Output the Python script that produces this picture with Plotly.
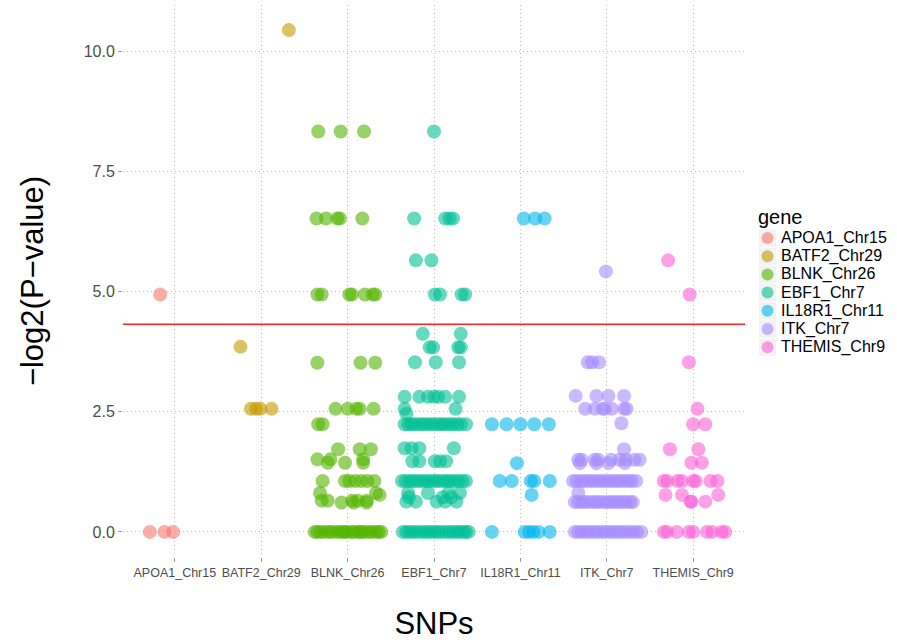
import plotly.graph_objects as go

# Genes (x categories) and colours
genes = ["APOA1_Chr15", "BATF2_Chr29", "BLNK_Chr26", "EBF1_Chr7",
         "IL18R1_Chr11", "ITK_Chr7", "THEMIS_Chr9"]
colors = ["#F8766D", "#C49A00", "#53B400", "#00C094",
          "#00B6EB", "#A58AFF", "#FB61D7"]

# -log2(P-value) per SNP and its horizontal jitter within the gene column
apoa1_y = [4.94, 0, 0, 0]
apoa1_dx = [-0.17, -0.29, -0.12, -0.02]

batf2_y = [10.44, 3.85, 2.56, 2.56, 2.56, 2.56]
batf2_dx = [0.32, -0.24, -0.12, -0.06, -0.01, 0.12]

blnk_y = [8.33, 8.33, 8.33,
          6.52, 6.52, 6.52, 6.52, 6.52,
          4.94, 4.94, 4.94, 4.94, 4.94, 4.94, 4.94,
          3.52, 3.52, 3.52,
          2.56, 2.56, 2.56, 2.56, 2.56,
          2.24, 2.24,
          1.72, 1.72, 1.72,
          1.51, 1.51, 1.51,
          1.44, 1.44, 1.44,
          1.06, 1.06, 1.06, 1.06, 1.06, 1.06, 1.06,
          0.81, 0.81, 0.77,
          0.65, 0.65, 0.65, 0.65, 0.65,
          0.61, 0.61, 0.61,
          0, 0, 0, 0, 0, 0, 0, 0, 0, 0, 0, 0, 0, 0, 0, 0, 0, 0, 0, 0, 0, 0]
blnk_dx = [-0.34, -0.08, 0.19,
           -0.36, -0.25, -0.12, -0.09, 0.17,
           -0.35, -0.30, 0.02, 0.05, 0.20, 0.29, 0.32,
           -0.35, 0.15, 0.32,
           -0.14, 0.0, 0.10, 0.14, 0.30,
           -0.34, -0.29,
           -0.11, 0.14, 0.27,
           -0.35, -0.20, 0.18,
           -0.23, -0.03, 0.18,
           -0.29, -0.03, 0.02, 0.09, 0.16, 0.23, 0.31,
           -0.32, 0.33, 0.37,
           -0.30, -0.23, 0.05, 0.12, 0.22,
           -0.07, 0.07, 0.22,
           -0.38, -0.35, -0.31, -0.27, -0.22, -0.19, -0.14, -0.10, -0.04, -0.01,
           0.04, 0.07, 0.12, 0.17, 0.20, 0.25, 0.28, 0.33, 0.36, 0.39, -0.06, 0.14]

ebf1_y = [8.33,
          6.52, 6.52, 6.52, 6.52,
          5.65, 5.65,
          4.94, 4.94, 4.94, 4.94,
          4.12, 4.12,
          3.84, 3.84, 3.84, 3.84,
          3.53, 3.53, 3.53,
          2.81, 2.81, 2.81, 2.81, 2.81, 2.81, 2.81,
          2.56, 2.56, 2.46,
          2.24, 2.24, 2.24, 2.24, 2.24, 2.24, 2.24, 2.24, 2.24,
          2.24, 2.24, 2.24, 2.24, 2.24, 2.24, 2.24, 2.24,
          1.74, 1.74, 1.74, 1.74,
          1.47, 1.47, 1.47, 1.47, 1.47,
          1.06, 1.06, 1.06, 1.06, 1.06, 1.06, 1.06, 1.06, 1.06,
          1.06, 1.06, 1.06, 1.06, 1.06, 1.06, 1.06, 1.06, 1.06,
          0.81, 0.81, 0.81, 0.81,
          0.72, 0.72, 0.72,
          0.63, 0.63, 0.63, 0.63, 0.63,
          0, 0, 0, 0, 0, 0, 0, 0, 0, 0, 0, 0, 0, 0, 0, 0, 0, 0, 0, 0]
ebf1_dx = [0.0,
           -0.23, 0.13, 0.18, 0.22,
           -0.21, -0.03,
           0.01, 0.07, 0.32, 0.36,
           -0.13, 0.31,
           -0.05, -0.01, 0.28, 0.31,
           -0.22, 0.02, 0.29,
           -0.34, -0.17, -0.07, 0.0, 0.05, 0.13, 0.29,
           -0.34, 0.25, -0.32,
           -0.34, -0.30, -0.26, -0.22, -0.17, -0.13, -0.09, -0.04, 0.0,
           0.05, 0.09, 0.13, 0.18, 0.22, 0.27, 0.31, 0.37,
           -0.34, -0.26, -0.17, 0.23,
           -0.25, -0.17, 0.01, 0.07, 0.14,
           -0.37, -0.33, -0.28, -0.24, -0.20, -0.15, -0.11, -0.07, -0.02,
           0.02, 0.06, 0.11, 0.15, 0.19, 0.24, 0.28, 0.33, 0.37,
           -0.30, -0.07, 0.17, 0.30,
           -0.29, 0.10, 0.20,
           -0.32, -0.21, 0.03, 0.13, 0.26,
           -0.36, -0.32, -0.28, -0.24, -0.20, -0.15, -0.11, -0.07, -0.03, 0.01,
           0.05, 0.09, 0.14, 0.18, 0.22, 0.26, 0.30, 0.34, 0.37, 0.40]

il18r1_y = [6.52, 6.52, 6.52,
            2.24, 2.24, 2.24, 2.24, 2.24,
            1.43,
            1.06, 1.06, 1.06, 1.06, 1.06,
            0.77,
            0, 0, 0, 0, 0, 0]
il18r1_dx = [0.04, 0.17, 0.28,
             -0.33, -0.16, 0.0, 0.16, 0.33,
             -0.04,
             -0.24, -0.10, 0.12, 0.16, 0.34,
             0.13,
             -0.33, 0.05, 0.10, 0.15, 0.21, 0.34]

itk_y = [5.42,
         3.53, 3.53, 3.53,
         2.83, 2.83, 2.83, 2.83,
         2.56, 2.56, 2.56, 2.56, 2.56, 2.56, 2.56,
         2.26, 1.72,
         1.50, 1.50, 1.50, 1.50, 1.50, 1.50, 1.50, 1.50, 1.50,
         1.43, 1.43, 1.43, 1.43,
         1.06, 1.06, 1.06, 1.06, 1.06, 1.06, 1.06, 1.06, 1.06,
         1.06, 1.06, 1.06, 1.06, 1.06, 1.06, 1.06, 1.06,
         0.81,
         0.62, 0.62, 0.62, 0.62, 0.62, 0.62, 0.62, 0.62,
         0.62, 0.62, 0.62, 0.62, 0.62, 0.62, 0.62, 0.62,
         0, 0, 0, 0, 0, 0, 0, 0, 0, 0, 0, 0, 0, 0, 0, 0, 0, 0]
itk_dx = [-0.01,
          -0.22, -0.17, -0.09,
          -0.36, -0.12, 0.02, 0.20,
          -0.25, -0.14, -0.05, -0.02, 0.06, 0.20, 0.23,
          0.17, 0.20,
          -0.33, -0.29, -0.14, -0.10, 0.05, 0.15, 0.22, 0.32, 0.38,
          -0.31, -0.12, 0.02, 0.21,
          -0.39, -0.35, -0.30, -0.26, -0.21, -0.17, -0.12, -0.07, -0.03,
          0.02, 0.06, 0.11, 0.15, 0.20, 0.25, 0.29, 0.34,
          -0.33,
          -0.37, -0.33, -0.28, -0.24, -0.19, -0.14, -0.10, -0.05,
          0.00, 0.04, 0.09, 0.13, 0.18, 0.22, 0.27, 0.30,
          -0.37, -0.33, -0.29, -0.24, -0.20, -0.15, -0.11, -0.06, -0.02,
          0.03, 0.07, 0.12, 0.16, 0.21, 0.26, 0.30, 0.35, 0.40]

themis_y = [5.65, 4.94, 3.53, 2.56,
            2.24, 2.24,
            1.72, 1.72,
            1.44, 1.44,
            1.06, 1.06, 1.06, 1.06, 1.06, 1.06, 1.06, 1.06,
            0.77, 0.77, 0.77,
            0.63, 0.63, 0.63,
            0, 0, 0, 0, 0, 0, 0, 0, 0]
themis_dx = [-0.29, -0.04, -0.05, 0.05,
             0.0, 0.14,
             -0.27, 0.06,
             -0.02, 0.10,
             -0.34, -0.30, -0.18, -0.13, 0.0, 0.03, 0.20, 0.28,
             -0.32, -0.13, 0.29,
             -0.03, -0.02, 0.14,
             -0.34, -0.30, -0.19, -0.05, 0.0, 0.16, 0.22, 0.33, 0.37]

gene_values = [apoa1_y, batf2_y, blnk_y, ebf1_y, il18r1_y, itk_y, themis_y]
gene_jitter = [apoa1_dx, batf2_dx, blnk_dx, ebf1_dx, il18r1_dx, itk_dx, themis_dx]

threshold = 4.32  # significance cut-off on the -log2 scale

y_ticks = [0, 2.5, 5, 7.5, 10]
y_ticklabels = ["0.0", "2.5", "5.0", "7.5", "10.0"]

FONT = "Liberation Sans, Arial, sans-serif"

fig = go.Figure()
for i, (name, col, ys, dxs) in enumerate(zip(genes, colors, gene_values, gene_jitter)):
    fig.add_trace(go.Scatter(
        x=[i + 1 + d for d in dxs], y=ys, mode="markers", name=name,
        marker=dict(size=14, color=col, opacity=0.6, line=dict(width=0)),
        showlegend=False, hoverinfo="x+y"))

# significance line across the panel
fig.add_shape(type="line", xref="x domain", x0=0, x1=1, yref="y",
              y0=threshold, y1=threshold, line=dict(color="#FF2020", width=1.5))

# Plot panel geometry in pixels (used for the key drawn beside the panel)
W, H = 897, 642
L, R, T, B = 123, 152, 5, 85
pw, ph = W - L - R, H - T - B


def px(xp):
    return (xp - L) / pw


def py(yp):
    return (H - B - yp) / ph


fig.add_annotation(text="gene", xref="paper", yref="paper", x=px(756), y=py(217),
                   xanchor="left", yanchor="middle", showarrow=False,
                   font=dict(family=FONT, size=20, color="black"))
step = 18.2
for i, (name, col) in enumerate(zip(genes, colors)):
    cy = 238 + i * step
    fig.add_shape(type="rect", xref="paper", yref="paper",
                  x0=px(759), x1=px(776), y0=py(cy - 8.6), y1=py(cy + 8.6),
                  fillcolor="#F2F2F2", line=dict(width=0), layer="below")
    fig.add_shape(type="circle", xref="paper", yref="paper",
                  x0=px(761.5), x1=px(773.5), y0=py(cy - 6), y1=py(cy + 6),
                  fillcolor=col, opacity=0.6, line=dict(width=0))
    fig.add_annotation(text=name, xref="paper", yref="paper", x=px(779), y=py(cy),
                       xanchor="left", yanchor="middle", showarrow=False,
                       font=dict(family=FONT, size=16, color="black"))

grid = dict(showgrid=True, gridcolor="#BDBDBD", griddash="1px,3px", gridwidth=1,
            zeroline=False, showline=False, ticks="outside", ticklen=4,
            tickcolor="#9A9A9A")

fig.update_layout(
    width=W, height=H,
    margin=dict(l=L, r=R, t=T, b=B),
    paper_bgcolor="white", plot_bgcolor="white",
    font=dict(family=FONT),
    xaxis=dict(
        range=[0.4, 7.6], tickmode="array", tickvals=list(range(1, len(genes) + 1)),
        ticktext=genes, tickfont=dict(family=FONT, size=12.5, color="#4D4D4D"),
        title=dict(text="SNPs", font=dict(family=FONT, size=31, color="black"), standoff=33),
        **grid,
    ),
    yaxis=dict(
        range=[-0.522, 10.962], tickmode="array", tickvals=y_ticks, ticktext=y_ticklabels,
        tickfont=dict(family=FONT, size=16, color="#4D4D4D"),
        title=dict(text="\u2212log2(P\u2212value)", font=dict(family=FONT, size=31, color="black"),
                   standoff=30),
        **grid,
    ),
)

fig.write_html("out.html")
